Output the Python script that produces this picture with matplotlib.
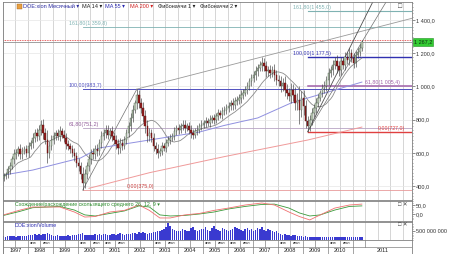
import numpy as np
import pandas as pd
import matplotlib
matplotlib.use("Agg")
import matplotlib.pyplot as plt
from matplotlib.patches import Rectangle

W, H = 450, 254
FONT = ['Liberation Sans', 'DejaVu Sans']

# monthly closes, Jan 1997 .. May 2011
closes = [
    460, 470, 500, 520, 560, 590, 600, 620, 590, 610, 620, 600,
    640, 660, 690, 720, 700, 740, 770, 720, 680, 600, 640, 680,
    700, 720, 700, 730, 710, 690, 650, 640, 620, 600, 580, 540,
    520, 470, 420, 470, 520, 560, 600, 590, 620, 610, 660, 700,
    720, 740, 710, 730, 700, 680, 650, 630, 660, 640, 680, 720,
    760, 810, 860, 900, 950, 900, 870, 820, 760, 700, 720, 690,
    640, 620, 600, 610, 640, 630, 660, 680, 690, 700, 730, 750,
    740, 760, 770, 750, 760, 740, 720, 710, 730, 740, 760, 770,
    780, 790, 780, 800, 810, 800, 820, 840, 830, 850, 860, 870,
    880, 900, 890, 910, 920, 930, 950, 960, 980, 1000, 1030, 1050,
    1070, 1090, 1110, 1130, 1140, 1120, 1090, 1100, 1080, 1100, 1070, 1040,
    1030, 1000, 1020, 980, 960, 940, 980, 950, 900, 920, 860, 930,
    880, 790, 760, 800, 840, 870, 900, 930, 960, 990, 1000, 1040,
    1080, 1100, 1130, 1150, 1120, 1100, 1150, 1130, 1180, 1160, 1200, 1170,
    1140, 1190, 1210, 1230, 1267.2,
]
first_open = 450
wicks = [
    20, 15, 20, 25, 20, 30, 25, 20, 30, 25, 20, 25,
    25, 20, 30, 25, 30, 25, 30, 35, 30, 60, 30, 25,
    25, 20, 25, 30, 20, 25, 30, 25, 20, 25, 30, 25,
    30, 25, 45, 30, 25, 30, 25, 30, 25, 30, 25, 30,
    25, 30, 25, 20, 30, 25, 30, 35, 30, 25, 20, 25,
    25, 30, 25, 20, 33.7, 30, 30, 35, 40, 35, 30, 25,
    30, 25, 30, 20, 25, 20, 25, 20, 25, 20, 25, 20,
    25, 20, 25, 30, 20, 25, 30, 25, 20, 25, 20, 25,
    20, 25, 20, 25, 20, 25, 20, 25, 20, 25, 20, 25,
    25, 20, 30, 25, 20, 25, 30, 25, 20, 25, 20, 25,
    25, 30, 25, 20, 37.5, 30, 35, 25, 30, 25, 35, 30,
    30, 35, 30, 40, 35, 30, 40, 35, 45, 40, 85, 45,
    50, 40, 33, 30, 30, 25, 30, 25, 20, 25, 30, 25,
    30, 25, 30, 25, 40, 35, 30, 25, 30, 25, 30, 25,
    30, 25, 20, 25, 15,
]
volume = [  # millions
    200, 180, 220, 240, 200, 210, 190, 230, 250, 200, 220, 240,
    260, 280, 300, 320, 280, 350, 300, 330, 360, 400, 320, 300,
    250, 230, 260, 240, 220, 250, 230, 270, 240, 260, 280, 300,
    320, 350, 400, 300, 280, 260, 300, 280, 320, 300, 340, 300,
    330, 360, 300, 280, 320, 340, 300, 310, 380, 330, 300, 350,
    320, 350, 400, 380, 340, 420, 380, 450, 400, 350, 380, 400,
    420, 450, 500, 480, 550, 600, 700, 950, 800, 600, 550, 500,
    500, 520, 600, 550, 480, 500, 650, 700, 550, 520, 580, 600,
    620, 700, 550, 500, 680, 800, 600, 550, 520, 650, 600, 580,
    500, 550, 600, 700, 650, 600, 550, 500, 600, 650, 550, 600,
    500, 550, 650, 600, 700, 550, 500, 600, 550, 500, 450, 480,
    400, 350, 300, 320, 280, 300, 250, 280, 300, 250, 220, 200,
    180, 200, 150, 170, 160, 180, 150, 140, 160, 150, 170, 160,
    150, 140, 160, 150, 170, 140, 150, 160, 150, 140, 170, 160,
    150, 160, 140, 170, 150,
]

ma55_m = [0, 14, 37, 46, 70, 94, 106, 122, 138, 146, 172]
ma55_v = [466, 496, 569, 629, 677, 725, 765, 810, 900, 930, 1026]
ma200_m = [41, 70, 106, 146, 162, 172]
ma200_v = [386, 480, 577, 677, 725, 755]

macd_m = [0, 8, 14, 27, 34, 39, 44, 51, 58, 65, 70, 75, 80, 87, 94, 101,
          108, 116, 124, 130, 137, 142, 147, 152, 159, 166, 172]
macd_line = [-5, 22, 39, 39, 11, -17, -14, 11, 20, 50, 20, -22, -22, -5, 3, 20,
             33, 50, 61, 50, 11, -14, -33, -5, 33, 50, 55]
macd_signal = [-8, 15, 35, 42, 22, -5, -11, 3, 17, 45, 39, -5, -11, -8, 0, 11,
               28, 42, 53, 55, 33, 6, -11, -5, 22, 42, 45]

# fibonacci: (level label, price, colour, line width)
fib1_start = 38
fib1 = [("161,80(1 359,8)", 1359.8, "#7fb2b2", 0.6), ("100,00(983,7)", 983.7, "#5050c0", 0.7),
        ("61,80(751,2)", 751.2, "#b8a4c4", 0.6), ("0,00(375,0)", 375.0, "#e89a9a", 0.6)]
fib2_start = 146
fib2 = [("161,80(1 455,0)", 1455.0, "#7fb2b2", 0.8), ("100,00(1 177,5)", 1177.5, "#3030b0", 1.0),
        ("61,80(1 005,4)", 1005.4, "#a060a8", 1.1), ("0,00(727,0)", 727.0, "#e04040", 1.0)]
fib_label_px = [(69, 69, 69, 127), (293, 293, 365, 378)]
last_price = 1267.2
years = list(range(1997, 2012))

# ---------------------------------------------------------------
closes = np.array(closes, dtype=float)
opens = np.r_[first_open, closes[:-1]]
wicks = np.array(wicks, dtype=float)
highs = np.maximum(opens, closes) + wicks
lows = np.minimum(opens, closes) - wicks
n = len(closes)
mx = np.arange(n) + 0.5
ma14 = pd.Series(closes).rolling(14, min_periods=1).mean()

PX = 25 / 12.0          # pixels per month
X0 = 2.5                # pixel of Jan 1997


def px2m(p):
    return (p - X0) / PX


def price_at(y):
    return 400 + (186 - y) * 6.024


def rect(x0, y0, x1, y1):
    return [x0 / W, 1 - y1 / H, (x1 - x0) / W, (y1 - y0) / H]


XL = (px2m(3), px2m(412))
YL = (price_at(200), price_at(2))

fig = plt.figure(figsize=(W / 100, H / 100), dpi=100)
fig.patch.set_facecolor("white")

ax = fig.add_axes(rect(3, 2, 412, 200))
osc = fig.add_axes(rect(3, 201, 412, 221))
vol = fig.add_axes(rect(3, 222, 412, 240))
dax = fig.add_axes(rect(3, 240, 412, 254))

for a in (ax, osc, vol, dax):
    a.set_xlim(*XL)
    for s in a.spines.values():
        s.set_color("#808080")
        s.set_linewidth(0.6)
    a.tick_params(axis="x", bottom=False, labelbottom=False)

ax.set_ylim(*YL)
osc.set_ylim(-38.9, 72.2)
vol.set_ylim(0, 1000)

# grid
grid_m = [12 * k + h for k in range(17) for h in (0, 6)]
for a in (ax, osc, vol):
    for g in grid_m:
        a.axvline(g, color="#cfcfcf", lw=0.6, zorder=0)
for p in range(400, 1600, 200):
    ax.axhline(p, color="#e6e6e6", lw=0.5, zorder=0)


def fmt_ru(v, dec=1):
    return f"{v:,.{dec}f}".replace(",", " ").replace(".", ",")


for a, ticks, minor in ((ax, [400, 600, 800, 1000, 1200, 1400], 20),
                        (osc, [0, 50], 10), (vol, [500], 100)):
    a.yaxis.tick_right()
    a.set_yticks(ticks)
    if a is vol:
        a.set_yticklabels(["500 000 000"])
    else:
        a.set_yticklabels([fmt_ru(t) for t in ticks])
    lo, hi = a.get_ylim()
    a.set_yticks(np.arange(np.ceil(lo / minor) * minor, hi, minor), minor=True)
    a.tick_params(axis="y", which="major", length=2, width=0.5, pad=1,
                  labelsize=4, labelcolor="#333333", color="#606060")
    a.tick_params(axis="y", which="minor", length=1, width=0.4, color="#606060")
    for lab in a.get_yticklabels():
        lab.set_family(FONT)

# moving averages
ax.plot(mx, ma14, color="#8a8a8a", lw=0.6, zorder=2)
ax.plot(np.array(ma55_m) + 0.5, ma55_v, color="#9090e0", lw=0.7, zorder=2)
ax.plot(np.array(ma200_m) + 0.5, ma200_v, color="#f09a9a", lw=0.7, zorder=2)

# candles
up = closes >= opens
ax.vlines(mx, lows, highs, color="#404040", lw=0.45, zorder=3)
ax.bar(mx[up], (closes - opens)[up], bottom=opens[up], width=0.75,
       color="#c4d0bc", edgecolor="#4a604a", lw=0.3, zorder=4)
ax.bar(mx[~up], (opens - closes)[~up], bottom=closes[~up], width=0.75,
       color="#901c1c", edgecolor="#601010", lw=0.3, zorder=4)

# fibonacci levels
fib_txt = dict(fontsize=3.8, family=FONT, va="bottom", ha="left")
for start, levels, xs in ((fib1_start, fib1, fib_label_px[0]), (fib2_start, fib2, fib_label_px[1])):
    for (lab, p, c, lw), xp in zip(levels, xs):
        ax.plot([start + 0.5, XL[1]], [p, p], color=c, lw=lw, zorder=1)
        tc = c if c not in ("#b8a4c4", "#e89a9a") else {"#b8a4c4": "#905a98", "#e89a9a": "#c83c3c"}[c]
        ax.text(px2m(xp), p + 6, lab, color=tc, **fib_txt)

# trend lines
tl = "#707070"
ax.plot([38.5, 64.5], [375.0, 983.7], color=tl, lw=0.5, zorder=2)
slope = (1177.5 - 983.7) / (124 - 64)
ax.plot([64.5, XL[1]], [983.7, 983.7 + slope * (XL[1] - 64.5)], color="#9a9a9a", lw=0.6, zorder=2)
s2 = (1177.5 - 727.0) / (164 - 146)
ax.plot([146.5, 146.5 + (YL[1] - 727) / s2], [727, YL[1]], color="#505050", lw=0.6, zorder=2)
s3 = (1267.2 - 727.0) / (172 - 146)
ax.plot([146.5, 146.5 + (YL[1] - 727) / s3], [727, YL[1]], color=tl, lw=0.5, zorder=2)

# last price
ax.axhline(last_price, color="#909090", lw=0.6, zorder=1)
ax.axhline(1280, color="#e03030", lw=0.6, ls=(0, (1, 1)), zorder=1)
yf = (last_price - YL[0]) / (YL[1] - YL[0])
ax.add_patch(Rectangle((1.002, yf - 0.022), 0.05, 0.044, transform=ax.transAxes, clip_on=False,
                       facecolor="#33cc33", edgecolor="#209020", lw=0.4, zorder=6))
ax.text(1.006, yf, fmt_ru(last_price), transform=ax.transAxes, fontsize=4, family=FONT,
        va="center", ha="left", color="#103010", zorder=7)

# legend header
hdr = [(23, "DOE:xion Месячный ▾", "#2a2aa0"), (82, "MA 14 ▾", "#202020"),
       (105, "MA 55 ▾", "#2a2ab0"), (130, "MA 200 ▾", "#d02020"),
       (158, "Фибоначчи 1 ▾", "#202020"), (200, "Фибоначчи 2 ▾", "#202020")]
for xp, t, c in hdr:
    fig.text(xp / W, 1 - 6.5 / H, t, fontsize=4, family=FONT, color=c, va="center")
fig.patches.append(Rectangle((17 / W, 1 - 9 / H), 5 / W, 5 / H, transform=fig.transFigure,
                             facecolor="#e8a040", edgecolor="#a06020", lw=0.3))
fig.text(400 / W, 1 - 6 / H, "□", fontsize=5, family=FONT, color="#404040", va="center", ha="center")

# MACD
osc.plot(np.array(macd_m) + 0.5, macd_signal, color="#3a9a3a", lw=0.6)
osc.plot(np.array(macd_m) + 0.5, macd_line, color="#f07070", lw=0.6)
osc.text(px2m(15), 66, "Схождение/расхождение скользящего среднего 26, 12, 9 ▾",
         fontsize=3.8, family=FONT, color="#2a8a2a", va="top")
osc.text(1.0 - 14 / 409, 0.8, "□ ✕", transform=osc.transAxes, fontsize=4, family=FONT,
         color="#404040", va="center")

# volume
vol.bar(mx, volume, width=0.7, color="#3a3ad0", lw=0)
vol.text(px2m(15), 960, "DOE:xion/Volume", fontsize=3.8, family=FONT, color="#2a2ab0", va="top")
vol.text(1.0 - 14 / 409, 0.85, "□ ✕", transform=vol.transAxes, fontsize=4, family=FONT,
         color="#404040", va="center")

# date axis
dax.set_ylim(0, 14)
dax.set_yticks([])
dax.axhline(7, color="#808080", lw=0.5)
for yr in years:
    m0 = 12 * (yr - 1997)
    dax.plot([m0, m0], [0, 14], color="#808080", lw=0.5)
    dax.plot([m0 + 6, m0 + 6], [7, 14], color="#808080", lw=0.5)
    right = XL[1] if yr == years[-1] else m0 + 12
    left = max(m0, XL[0])
    dax.text((left + right) / 2, 3.3, str(yr), fontsize=4, family=FONT,
             ha="center", va="center", color="#202020")
for yr in (1998, 2000, 2001, 2003, 2005, 2006, 2008, 2010):
    m0 = 12 * (yr - 1997)
    dax.text(m0 + 3, 10.5, "янв", fontsize=3, family=FONT, ha="center", va="center", color="#202020")
    dax.text(m0 + 9, 10.5, "июл", fontsize=3, family=FONT, ha="center", va="center", color="#202020")

fig.savefig("out.png", dpi=100)
